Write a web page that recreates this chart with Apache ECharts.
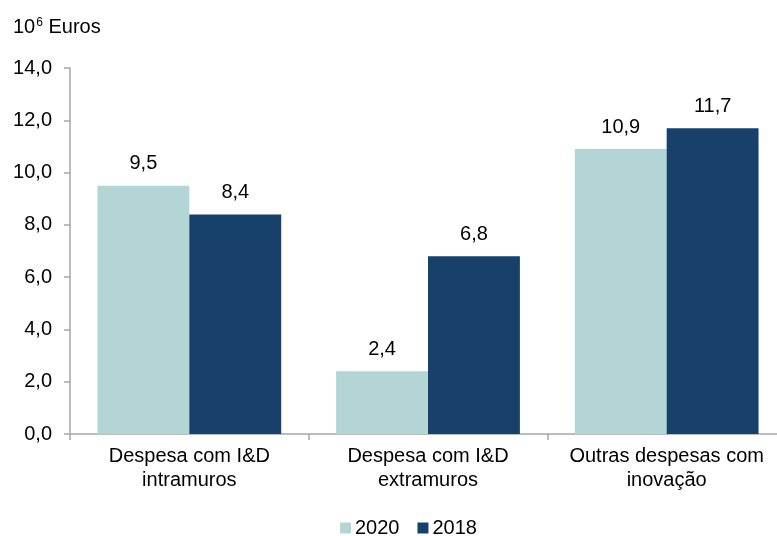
<!DOCTYPE html>
<html><head><meta charset="utf-8">
<script src="https://cdn.jsdelivr.net/npm/echarts@6/dist/echarts.min.js"></script>
<style>html,body{margin:0;padding:0;background:#fff}#c{width:777px;height:536px}</style>
</head><body><div id="c"></div>
<script>
const categories = ['Despesa com I&D\nintramuros', 'Despesa com I&D\nextramuros', 'Outras despesas com\ninovação'];
const seriesNames = ['2020', '2018'];
const values2020 = [9.5, 2.4, 10.9];
const values2018 = [8.4, 6.8, 11.7];
const yTicks = { min: 0, max: 14, interval: 2 };

const FONT = 'Liberation Sans, Arial, sans-serif';
const fmt = v => v.toFixed(1).replace('.', ',');
const chart = echarts.init(document.getElementById('c'), null, { renderer: 'canvas' });
const labelCfg = { show: true, position: 'top', distance: 12, color: '#000', fontSize: 20, fontFamily: FONT, formatter: p => fmt(p.value) };
chart.setOption({
  animation: false,
  title: {
    text: '{a|10}{b|6}{a| Euros}', left: 8, top: 12,
    textStyle: { fontWeight: 'normal', rich: {
      a: { fontSize: 20, fontFamily: FONT, color: '#000', fontWeight: 'normal' },
      b: { fontSize: 12, fontFamily: FONT, color: '#000', fontWeight: 'normal', verticalAlign: 'top', padding: [0, 0, 6, 1] }
    } }
  },
  grid: { left: 70, width: 716, top: 68, height: 366, containLabel: false, outerBoundsMode: 'none' },
  legend: {
    data: seriesNames, top: 518, left: 340, padding: 0, itemWidth: 11, itemHeight: 11, itemGap: 18,
    icon: 'rect', textStyle: { fontSize: 20, fontFamily: FONT, color: '#000', padding: [0, 0, 0, -1] }
  },
  xAxis: {
    type: 'category', data: categories,
    axisLine: { lineStyle: { color: '#a6a6a6', width: 1.5 } },
    axisTick: { show: true, length: 6, lineStyle: { color: '#a6a6a6', width: 1.5 } },
    axisLabel: { fontSize: 20, fontFamily: FONT, color: '#000', lineHeight: 24, margin: 10, interval: 0 }
  },
  yAxis: {
    type: 'value', min: yTicks.min, max: yTicks.max, interval: yTicks.interval,
    splitLine: { show: false },
    axisLine: { show: true, lineStyle: { color: '#a6a6a6', width: 1.5 } },
    axisTick: { show: true, length: 6, lineStyle: { color: '#a6a6a6', width: 1.5 } },
    axisLabel: { fontSize: 20, fontFamily: FONT, color: '#000', margin: 18, formatter: v => fmt(v) }
  },
  series: [
    { name: seriesNames[0], type: 'bar', data: values2020, barGap: '0%', barCategoryGap: '23%', itemStyle: { color: '#b3d5d6' }, label: labelCfg },
    { name: seriesNames[1], type: 'bar', data: values2018, barGap: '0%', barCategoryGap: '23%', itemStyle: { color: '#17406a' }, label: labelCfg }
  ]
});
</script></body></html>
